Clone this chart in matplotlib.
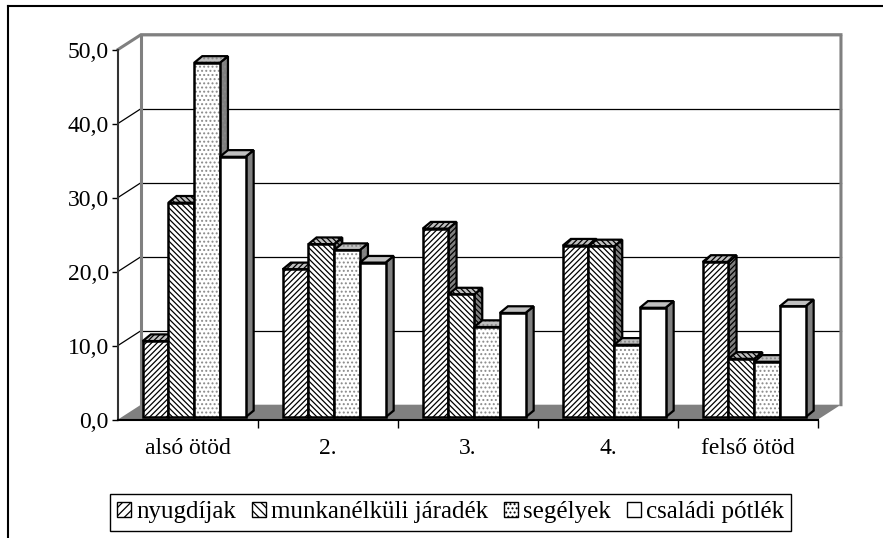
import matplotlib
matplotlib.use("Agg")
import matplotlib.pyplot as plt
from matplotlib.patches import Polygon, Patch
from matplotlib.lines import Line2D

# data (shares in %, by income quintile)
categories = ['alsó ötöd', '2.', '3.', '4.', 'felső ötöd']
series = ['nyugdíjak', 'munkanélküli járadék', 'segélyek', 'családi pótlék']
nyugdijak = [10.3, 20.0, 25.5, 23.2, 21.0]
munkanelkuli = [29.0, 23.4, 16.6, 23.1, 7.9]
segelyek = [47.9, 22.6, 12.2, 9.8, 7.5]
csaladi = [35.2, 20.9, 14.1, 14.8, 15.0]
yticks = [0, 10, 20, 30, 40, 50]

# look of each series: hatch, hatch colour
styles = [('//////', 'black'), ('\\\\\\\\\\\\', 'black'), ('....', '#8a8a8a'), ('', 'black')]

# 3d geometry (data units: x = categories, y = values)
wall_dx, wall_dy = 0.164, 2.0     # floor / wall depth
bar_dx, bar_dy = 0.058, 0.9       # bar depth
bar_z = 0.15                      # bars sit a little behind the front edge
bar_w = 0.1836
bar_start = 0.152
gray = '#808080'
light = '#c0c0c0'

plt.rcParams['font.family'] = ['Liberation Serif', 'DejaVu Serif']
plt.rcParams['hatch.linewidth'] = 0.9


def poly(ax, pts, fc, hatch='', hc='black', z=1, lw=0, ec='none'):
    if hatch:
        ax.add_patch(Polygon(pts, closed=True, facecolor=fc, edgecolor=hc, hatch=hatch,
                             linewidth=0, zorder=z, clip_on=False))
        ax.add_patch(Polygon(pts, closed=True, facecolor='none', edgecolor=ec,
                             linewidth=lw, zorder=z, clip_on=False))
    else:
        ax.add_patch(Polygon(pts, closed=True, facecolor=fc, edgecolor=ec,
                             linewidth=lw, zorder=z, clip_on=False))


def draw_walls(ax):
    n = len(categories)
    top = yticks[-1]
    # back wall and left wall
    poly(ax, [(wall_dx, wall_dy), (n + wall_dx, wall_dy), (n + wall_dx, top + wall_dy),
              (wall_dx, top + wall_dy)], 'white', z=0.5)
    # floor
    poly(ax, [(0, 0), (n, 0), (n + wall_dx, wall_dy), (wall_dx, wall_dy)], gray, z=0.8)
    for v in yticks[1:]:
        ax.plot([wall_dx, n + wall_dx], [v + wall_dy, v + wall_dy], color='black', lw=0.9,
                zorder=0.7, clip_on=False)
        ax.plot([0, wall_dx], [v, v + wall_dy], color='black', lw=0.9, zorder=0.7, clip_on=False)
    # wall edges in gray
    ax.plot([0, wall_dx, n + wall_dx, n + wall_dx], [top, top + wall_dy, top + wall_dy, wall_dy],
            color=gray, lw=2.2, zorder=0.9, clip_on=False, solid_joinstyle='miter')
    ax.plot([wall_dx, wall_dx], [wall_dy, top + wall_dy], color=gray, lw=2.2, zorder=0.9, clip_on=False)


def draw_bars(ax, data):
    z = 3
    for i in range(len(categories)):
        for j, vals in enumerate(data):
            hatch, hc = styles[j]
            x0 = i + bar_start + j * bar_w + bar_z * wall_dx
            y0 = bar_z * wall_dy
            x1 = x0 + bar_w
            y1 = y0 + vals[i]
            front = [(x0, y0), (x1, y0), (x1, y1), (x0, y1)]
            topf = [(x0, y1), (x1, y1), (x1 + bar_dx, y1 + bar_dy), (x0 + bar_dx, y1 + bar_dy)]
            side = [(x1, y0), (x1 + bar_dx, y0 + bar_dy), (x1 + bar_dx, y1 + bar_dy), (x1, y1)]
            poly(ax, side, gray, hatch, hc, z, 1.6, 'black')
            poly(ax, topf, light, hatch, hc, z, 1.6, 'black')
            poly(ax, front, 'white', hatch, hc, z + 0.1, 1.8, 'black')
            z += 0.2


fig = plt.figure(figsize=(8.83, 5.38), dpi=100)
ax = fig.add_axes([118 / 883, (538 - 419.5) / 538, 700 / 883, 370 / 538])
ax.set_xlim(0, len(categories))
ax.set_ylim(0, 50)
ax.set_facecolor('none')

draw_walls(ax)
draw_bars(ax, [nyugdijak, munkanelkuli, segelyek, csaladi])

for s in ['top', 'right']:
    ax.spines[s].set_visible(False)
ax.spines['left'].set_color('#333333')
ax.spines['left'].set_linewidth(1.5)
ax.spines['bottom'].set_color('black')
ax.spines['bottom'].set_linewidth(1.5)

ax.set_yticks(yticks)
ax.set_yticklabels([f"{v:.1f}".replace('.', ',') for v in yticks], fontsize=17)
ax.tick_params(axis='y', length=4.5, width=1, pad=2)
ax.set_xticks([i + 0.5 for i in range(len(categories))])
ax.set_xticklabels(categories, fontsize=17)
ax.set_xticks(range(1, len(categories) + 1), minor=True)
ax.tick_params(axis='x', which='major', length=0, pad=13)
ax.tick_params(axis='x', which='minor', length=6, width=1)

handles = [Patch(facecolor='white', edgecolor='black', hatch=h[:4]) for h, _ in styles]
fig.legend(handles, series, loc='center', bbox_to_anchor=(450.5 / 883, (538 - 512) / 538),
           ncol=4, fontsize=18, fancybox=False, edgecolor='black', framealpha=1,
           handlelength=0.55, handleheight=0.55, handletextpad=0.2, columnspacing=0.65,
           borderpad=0.3, borderaxespad=0)

# outer frame of the chart area
fig.add_artist(Line2D([8 / 883, 8 / 883], [0, (538 - 6) / 538], color='black', lw=1.5))
fig.add_artist(Line2D([8 / 883, 1], [(538 - 6) / 538, (538 - 6) / 538], color='black', lw=1.5))

fig.savefig('out.png', dpi=100)
